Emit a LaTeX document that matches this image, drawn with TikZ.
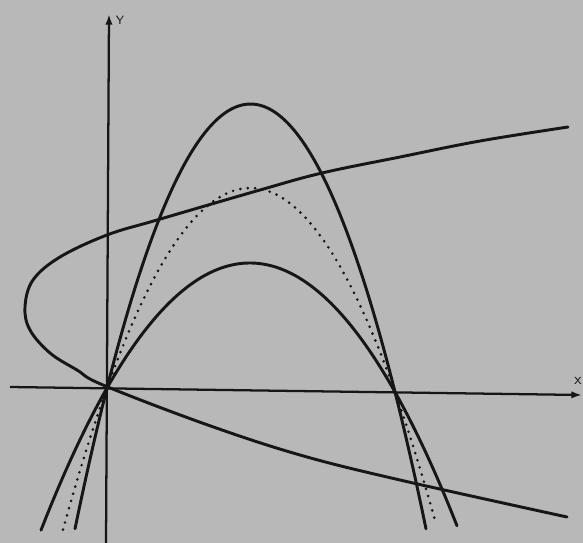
\documentclass[tikz,border=0pt]{standalone}
\usetikzlibrary{arrows.meta}
\definecolor{paper}{RGB}{184,184,184}
\definecolor{ink}{RGB}{22,22,22}
\tikzset{
  axisline/.style={draw=ink, line width=1.7pt, -{Latex[length=8pt,width=5.5pt]}},
  curve/.style={draw=ink, line width=2.2pt, line cap=round, line join=round},
  dotcurve/.style={draw=ink, line width=2.2pt, line cap=round, dash pattern=on 0pt off 5.6pt},
  axlabel/.style={text=ink, font=\sffamily, inner sep=0pt}
}
\begin{document}
\begin{tikzpicture}[x=0.75pt, y=-0.75pt]
\fill[paper] (0,0) rectangle (583,543);
\useasboundingbox (0,0) rectangle (583,543);
% axes
\coordinate (xs) at (10,387);
\coordinate (xe) at (582,395);
\coordinate (ys) at (106,543);
\coordinate (ye) at (109,14);
\draw[axisline] (xs) -- (xe);
\draw[axisline] (ys) -- (ye);
\node[axlabel, font=\sffamily\small] (ylab) at (120,20) {Y};
\node[axlabel, font=\sffamily\large] (xlab) at (578,381) {x};
% downward parabolas through (107,388) and (395,392)
\draw[curve] plot[domain=75:426, samples=90, smooth]
  (\x, {388+4*(\x-107)/288 - 286*((\x-107)/144)*((395-\x)/144)});
\draw[curve] plot[domain=41:457, samples=90, smooth]
  (\x, {388+4*(\x-107)/288 - 127*((\x-107)/144)*((395-\x)/144)});
\draw[dotcurve] plot[domain=63:436, samples=90, smooth]
  (\x, {388+4*(\x-107)/288 - 202*((\x-107)/144)*((395-\x)/144)});
% sideways parabola
\draw[curve] plot[smooth, tension=0.6] coordinates {
  (568,127) (480,141) (400,157) (322,173) (260,190) (157,220) (107,235)
  (60,257) (33,280) (25,307) (30,330) (50,353) (77,370) (103,385)
  (205,424) (300,455) (400,480) (567,517)};
\end{tikzpicture}
\end{document}
